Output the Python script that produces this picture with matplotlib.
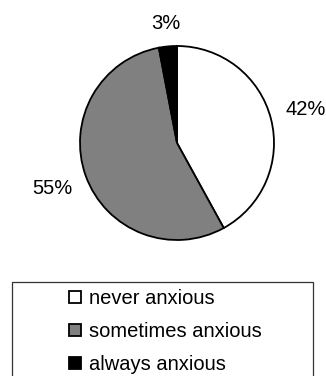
import numpy as np
import matplotlib
matplotlib.use("Agg")
import matplotlib.pyplot as plt
from matplotlib.patches import Rectangle

plt.rcParams["font.family"] = ["Liberation Sans", "DejaVu Sans"]

# Share of respondents per anxiety category (percent)
categories = ["never anxious", "sometimes anxious", "always anxious"]
values = [42, 55, 3]
colors = ["#ffffff", "#808080", "#000000"]

W, H = 326, 376
fig = plt.figure(figsize=(W / 100, H / 100), dpi=100)

# Pie axes: centre (177, 143) px, radius 97 px
cx, cy, r = 177, 143, 97
ax = fig.add_axes([(cx - r) / W, (H - cy - r) / H, 2 * r / W, 2 * r / H])
wedges, _ = ax.pie(values, colors=colors, startangle=90, counterclock=False,
                   radius=1.0,
                   wedgeprops=dict(edgecolor="black", linewidth=1.3))
ax.set_xlim(-1, 1)
ax.set_ylim(-1, 1)
ax.set_aspect("equal")
ax.axis("off")

# Percentage labels placed outside each wedge along its mid angle
label_dist = [1.37, 1.37, 1.24]
for w, v, d in zip(wedges, values, label_dist):
    mid = np.deg2rad((w.theta1 + w.theta2) / 2)
    ax.text(d * np.cos(mid), d * np.sin(mid), f"{v}%", ha="center",
            va="center", fontsize=14.5, clip_on=False)

# Legend box (extends past the bottom edge)
fig.patches.append(Rectangle((12 / W, -0.05), (313 - 12) / W,
                             (H - 282) / H + 0.05, transform=fig.transFigure,
                             facecolor="white", edgecolor="#333333",
                             linewidth=0.9, zorder=0))

leg = fig.legend(wedges, categories, loc="upper left",
                 bbox_to_anchor=(69 / W, 1 - 289 / H),
                 frameon=False, fontsize=14.5, borderpad=0, borderaxespad=0,
                 handlelength=0.6, handleheight=0.6, handletextpad=0.4,
                 labelspacing=0.7)

fig.savefig("out.png", dpi=100)
